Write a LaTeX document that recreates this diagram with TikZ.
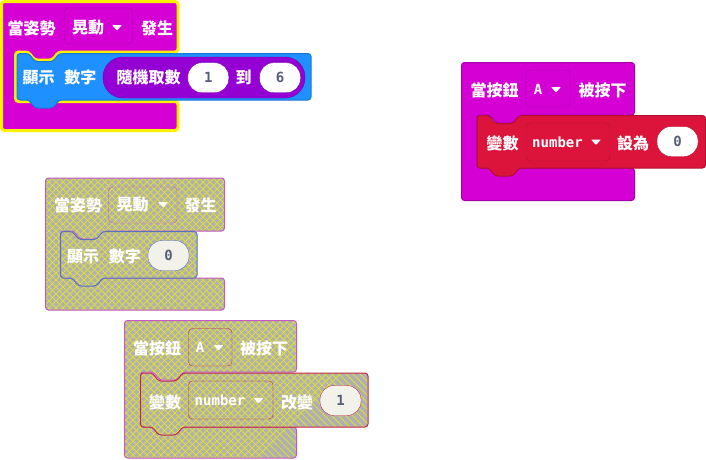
\documentclass[tikz,border=0pt]{standalone}
\usepackage{fontspec}
\newfontfamily\cjk{Noto Sans CJK TC}
\newfontfamily\monof{DejaVu Sans Mono}
\definecolor{mag}{HTML}{D400D4}
\definecolor{magdk}{HTML}{A800A8}
\definecolor{blu}{HTML}{1E90FF}
\definecolor{bludk}{HTML}{1A78D6}
\definecolor{pur}{HTML}{9400D3}
\definecolor{purdk}{HTML}{7400A8}
\definecolor{crim}{HTML}{DC143C}
\definecolor{crimdk}{HTML}{B00F30}
\definecolor{selyel}{HTML}{FFF200}
\definecolor{hatchbg}{RGB}{176,176,176}
\definecolor{hatchln}{RGB}{220,220,60}
\definecolor{ghostmag}{RGB}{196,88,196}
\definecolor{ghostblu}{RGB}{88,112,192}
\definecolor{ghostred}{RGB}{196,40,72}
\definecolor{numgray}{HTML}{575E75}
\definecolor{pillbg}{RGB}{242,242,234}
% C-shaped event block: x0,y0,x1,yrow,xinner,ybottomofmouth,yend
\newcommand\hatpath[7]{(#1,#2) -- (#3,#2) -- (#3,#4) -- ({#5+43},#4) -- ({#5+37},{#4+8}) -- ({#5+19},{#4+8}) -- ({#5+13},#4) -- (#5,#4) -- (#5,#6) -- (#3,#6) -- (#3,#7) -- (#1,#7) -- cycle}
% statement block: xl,yt,xr,yb
\newcommand\stmtpath[4]{(#1,#2) -- ({#1+12},#2) -- ({#1+18},{#2+8}) -- ({#1+36},{#2+8}) -- ({#1+42},#2) -- (#3,#2) -- (#3,#4) -- ({#1+42},#4) -- ({#1+36},{#4+8}) -- ({#1+18},{#4+8}) -- ({#1+12},#4) -- (#1,#4) -- cycle}
\newcommand\ddtri[2]{\fill[white,rounded corners=0.8pt] ({#1-5},{#2-2.5}) -- ({#1+5},{#2-2.5}) -- (#1,{#2+3}) -- cycle;}
% crosshatch over a region (to be used inside a clip): xmin ymin xmax ymax
\newcommand\hatchlines[4]{%
  \fill[hatchbg] (#1,#2) rectangle (#3,#4);
  \foreach \k in {-66,...,102} {%
    \draw[hatchln, line width=1pt] ({\k*7},0) -- ++(470,470);
    \draw[hatchln, line width=1pt] ({\k*7},0) -- ++(-470,470);
  }}
\tikzset{
  lbl/.style={text=white, font=\cjk\bfseries\fontsize{16}{16}\selectfont, inner sep=0pt},
  mono/.style={text=white, font=\monof\bfseries\fontsize{14}{14}\selectfont, inner sep=0pt},
  pill/.style={rounded corners=14pt, minimum width=41pt, minimum height=30pt, inner sep=0pt,
    text=numgray, font=\monof\bfseries\fontsize{14}{14}\selectfont},
  blk/.style={rounded corners=3pt, line width=1pt},
}
\begin{document}
\begin{tikzpicture}[x=1pt,y=-1pt]
\useasboundingbox (0,0) rectangle (706,459);
% ===== Block 1 (selected) =====
\filldraw[blk, fill=mag, draw=selyel, line width=3pt] \hatpath{1.5}{1.5}{178}{52}{15.5}{101.5}{130.5};
\filldraw[blk, fill=blu, draw=bludk] \stmtpath{17}{53.5}{311}{100};
\filldraw[rounded corners=4pt, fill=mag, draw=magdk] (64.5,8) rectangle (132.5,44);
\node[lbl] (b1when) at (31.5,28) {當姿勢};
\node[lbl] (b1shake) at (88,28) {晃動};
\ddtri{117}{27.5}
\node[lbl] (b1occ) at (157,28) {發生};
\node[lbl] (b1show) at (59.5,77.5) {顯示\hspace{0.62em}數字};
\filldraw[rounded corners=20pt, fill=pur, draw=purdk] (103,57) rectangle (305,98);
\node[lbl] (b1rand) at (148.5,77.5) {隨機取數};
\node[pill, fill=white, draw=purdk] (b1p1) at (208.3,77.7) {1};
\node[lbl] (b1to) at (243.5,77.5) {到};
\node[pill, fill=white, draw=purdk] (b1p6) at (280,77.7) {6};
% ===== Block 4 (right) =====
\filldraw[blk, fill=mag, draw=magdk] \hatpath{461.5}{62.5}{634.5}{115}{477}{168}{200.5};
\filldraw[blk, fill=crim, draw=crimdk] \stmtpath{477}{115.5}{705.5}{168};
\filldraw[rounded corners=4pt, fill=mag, draw=magdk] (526,70) rectangle (570,107);
\node[lbl] (b4when) at (494.5,90) {當按鈕};
\node[mono] (b4a) at (538,89.5) {A};
\ddtri{556}{89.5}
\node[lbl] (b4press) at (602.5,90) {被按下};
\node[lbl] (b4var) at (502.5,143) {變數};
\filldraw[rounded corners=4pt, fill=crim, draw=crimdk] (526,123) rectangle (610,161);
\node[mono] (b4num) at (557.5,142) {number};
\ddtri{596}{142}
\node[lbl] (b4set) at (633,143) {設為};
\node[pill, fill=white, draw=crimdk] (b4p0) at (677.5,141.5) {0};
% ===== Block 2 (disabled) =====
\begin{scope}
  \clip[rounded corners=3pt] \hatpath{45.5}{178}{224.5}{231}{60.5}{278}{310};
  \hatchlines{40}{170}{230}{315}
\end{scope}
\draw[blk, draw=ghostmag] \hatpath{45.5}{178}{224.5}{231}{60.5}{278}{310};
\begin{scope}
  \clip[rounded corners=3pt] \stmtpath{60.5}{231.5}{197}{278};
  \hatchlines{55}{225}{200}{290}
\end{scope}
\draw[blk, draw=ghostblu] \stmtpath{60.5}{231.5}{197}{278};
\draw[rounded corners=4pt, draw=ghostmag] (108.5,187) rectangle (177,223);
\node[lbl] (b2when) at (78,205) {當姿勢};
\node[lbl] (b2shake) at (132.5,205) {晃動};
\ddtri{163}{204.5}
\node[lbl] (b2occ) at (200.5,205) {發生};
\node[lbl] (b2show) at (104,256) {顯示\hspace{0.62em}數字};
\node[pill, fill=pillbg, draw=ghostblu] (b2p0) at (168.5,255.5) {0};
% ===== Block 3 (disabled) =====
\begin{scope}
  \clip[rounded corners=3pt] \hatpath{124.5}{320.5}{296.5}{372}{140.5}{427}{458};
  \hatchlines{120}{315}{300}{459}
\end{scope}
\draw[blk, draw=ghostmag] \hatpath{124.5}{320.5}{296.5}{372}{140.5}{427}{458};
\begin{scope}
  \clip[rounded corners=3pt] \stmtpath{140.5}{373}{368}{427};
  \hatchlines{135}{368}{372}{440}
\end{scope}
\draw[blk, draw=ghostred] \stmtpath{140.5}{373}{368}{427};
\draw[rounded corners=4pt, draw=ghostred] (188.5,328.5) rectangle (232,366);
\node[lbl] (b3when) at (157,348) {當按鈕};
\node[mono] (b3a) at (200,347.5) {A};
\ddtri{218.5}{347.5}
\node[lbl] (b3press) at (264,348) {被按下};
\node[lbl] (b3var) at (165,402) {變數};
\draw[rounded corners=4pt, draw=ghostred] (188.5,381) rectangle (273,419);
\node[mono] (b3num) at (220,400.5) {number};
\ddtri{258.5}{400.5}
\node[lbl] (b3chg) at (297,402) {改變};
\node[pill, fill=pillbg, draw=ghostred] (b3p1) at (340.5,400.5) {1};
\end{tikzpicture}
\end{document}
